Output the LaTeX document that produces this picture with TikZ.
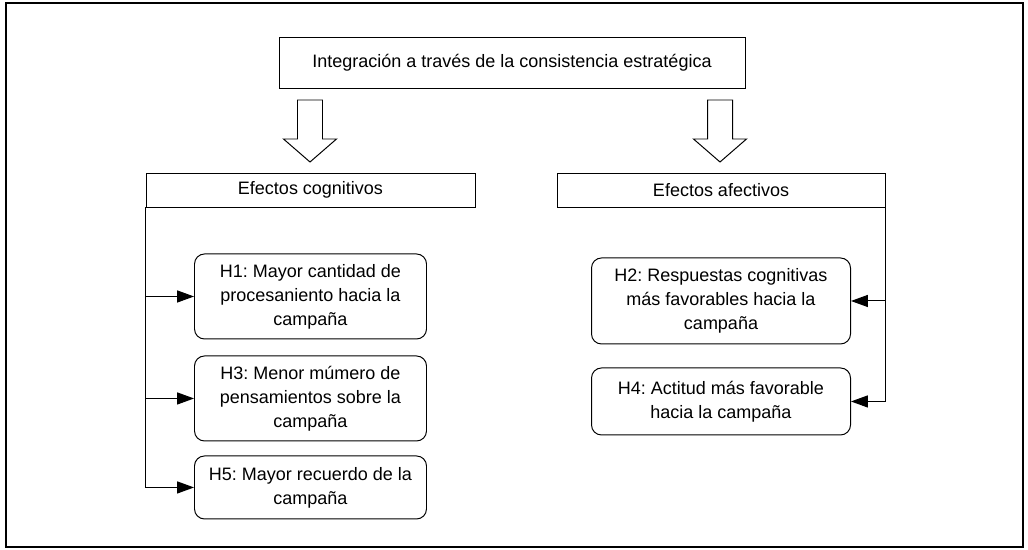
\documentclass[tikz,border=0pt]{standalone}
\usepackage{fontspec}
\setmainfont{Liberation Sans}
\usepackage{tikz}
\usetikzlibrary{shapes,arrows.meta,positioning}
\frenchspacing
\tikzstyle{arrow} = [line width=0.7pt,-{Triangle[length=0.42cm,width=0.3cm]}]
\tikzstyle{header} = [rectangle, draw=black, line width=0.7pt, minimum height=0.85cm]
\tikzstyle{hypo} = [rectangle, rounded corners=0.25cm, draw=black, line width=0.7pt, align=center]

\begin{document}
\begin{tikzpicture}[font=\fontsize{12.8}{17}\selectfont]
    
        \useasboundingbox (0,0) rectangle (25.7,-13.75);
        \draw [line width=1.4pt] (0.15,-0.075) rectangle (25.575,-13.675);
        
        \node (top) [rectangle, draw=black, line width=0.7pt, minimum width=11.65cm, minimum height=1.275cm] at (12.8,-1.5625) {Integración a través de la consistencia estratégica};
        
        \foreach \x in {7.75,18.0}
            \draw [line width=0.7pt] (\x-0.3125,-2.5) -- (\x+0.3125,-2.5) -- (\x+0.3125,-3.475) -- (\x+0.6625,-3.475)
                -- (\x,-4.05) -- (\x-0.6625,-3.475) -- (\x-0.3125,-3.475) -- cycle;
        
        \node (cog) [header, minimum width=8.225cm] at (7.7625,-4.75) {Efectos cognitivos};
        \node (afe) [header, minimum width=8.2cm] at (18.025,-4.75) {Efectos afectivos};
        
        \node (h1) [hypo, below=1.15cm of cog, minimum width=5.8cm, minimum height=2.125cm] {H1: Mayor cantidad de \\ procesaniento hacia la \\ campaña};
        \node (h3) [hypo, below=0.4cm of h1, minimum width=5.8cm, minimum height=2.125cm] {H3: Menor múmero de \\ pensamientos sobre la \\ campaña};
        \node (h5) [hypo, below=0.35cm of h3, minimum width=5.8cm, minimum height=1.575cm] {H5: Mayor recuerdo de la \\ campaña};
        
        \node (h2) [hypo, below=1.25cm of afe, minimum width=6.475cm, minimum height=2.15cm] {H2: Respuestas cognitivas \\ más favorables hacia la \\ campaña};
        \node (h4) [hypo, below=0.575cm of h2, minimum width=6.475cm, minimum height=1.675cm] {H4: Actitud más favorable \\ hacia la campaña};
        
        \draw [arrow] (cog.south west) |- (h1);
        \draw [arrow] (cog.south west) |- (h3);
        \draw [arrow] (cog.south west) |- (h5);
        
        \draw [arrow] (afe.south east) |- (h2);
        \draw [arrow] (afe.south east) |- (h4);
        
    \end{tikzpicture}
\end{document}
